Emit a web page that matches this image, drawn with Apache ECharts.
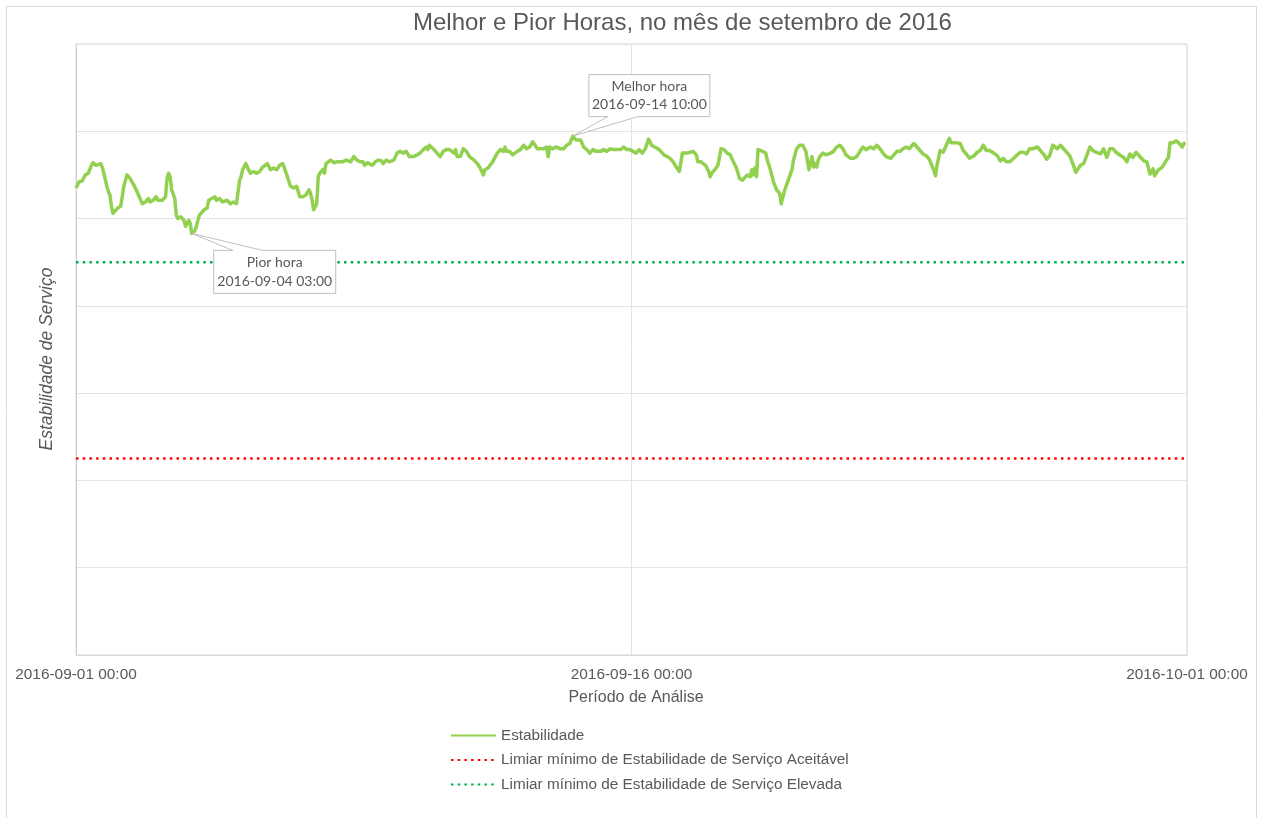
<!DOCTYPE html>
<html>
<head>
<meta charset="utf-8">
<title>Melhor e Pior Horas, no mês de setembro de 2016</title>
<script src="https://cdn.jsdelivr.net/npm/echarts@6/dist/echarts.min.js"></script>
<style>
  html, body { margin: 0; padding: 0; background: #ffffff; }
  #chart { width: 1261px; height: 818px; }
</style>
</head>
<body>
<div id="chart"></div>
<script>
// Hourly service stability, September 2016 (hour offset from 2016-09-01 00:00)
const hours = [
  0, 2, 4, 6, 8, 10, 11, 13, 16, 17, 18, 20, 21, 22, 23, 24, 25, 27, 29, 31,
  33, 35, 37, 39, 41, 43, 45, 47, 48, 50, 52, 53, 56, 57, 58, 59, 60, 61, 62, 64,
  65, 66, 67, 68, 70, 71, 72, 73, 74, 75, 76, 77, 78, 79, 80, 83, 85, 86, 88, 90,
  91, 93, 95, 98, 100, 102, 104, 105, 106, 107, 108, 110, 111, 113, 115, 117, 119, 121, 124, 126,
  128, 130, 132, 134, 135, 137, 139, 141, 143, 145, 147, 149, 151, 152, 153, 154, 155, 156, 157, 158,
  160, 161, 162, 165, 167, 169, 171, 173, 174, 175, 178, 180, 182, 184, 186, 187, 189, 192, 194, 196,
  198, 199, 201, 203, 206, 208, 210, 212, 214, 216, 219, 221, 223, 225, 227, 228, 229, 232, 234, 236,
  238, 240, 242, 245, 246, 247, 248, 249, 251, 253, 255, 258, 260, 262, 264, 265, 267, 268, 270, 273,
  275, 277, 278, 279, 281, 283, 286, 288, 290, 292, 294, 296, 299, 301, 303, 305, 306, 307, 309, 311,
  314, 316, 318, 320, 322, 324, 327, 329, 331, 333, 335, 337, 340, 342, 344, 346, 348, 350, 353, 355,
  357, 359, 361, 363, 365, 367, 369, 371, 372, 373, 375, 376, 378, 381, 383, 385, 387, 389, 391, 393,
  394, 396, 398, 400, 401, 402, 403, 405, 408, 410, 411, 412, 414, 415, 416, 418, 420, 422, 424, 426,
  428, 430, 432, 435, 436, 437, 438, 439, 440, 441, 442, 443, 445, 447, 448, 450, 452, 454, 456, 457,
  458, 459, 462, 464, 465, 467, 469, 471, 473, 475, 476, 477, 478, 479, 480, 481, 482, 484, 486, 489,
  491, 493, 495, 497, 499, 502, 504, 506, 508, 510, 512, 515, 517, 519, 521, 523, 525, 528, 530, 532,
  534, 536, 538, 540, 543, 545, 547, 549, 551, 553, 556, 557, 558, 560, 562, 564, 566, 567, 570, 573,
  575, 577, 579, 582, 584, 586, 588, 590, 592, 594, 597, 599, 601, 603, 605, 607, 610, 612, 614, 616,
  618, 620, 623, 625, 627, 629, 631, 633, 636, 638, 639, 640, 642, 644, 646, 648, 651, 653, 655, 657,
  659, 661, 664, 666, 668, 670, 672, 674, 677, 679, 681, 683, 685, 687, 690, 692, 694, 696, 698, 699,
  701, 704, 706, 708, 709, 711, 713, 715, 717, 718, 719
];
const stability = [
  83.5, 84.2, 84.3, 85.0, 85.2, 86.1, 86.4, 86.1, 86.3, 85.9, 85.2, 83.7, 83.1, 82.7, 81.4, 80.6, 80.5, 81.2, 81.4, 83.7,
  85.0, 84.6, 84.0, 83.3, 82.5, 81.7, 81.9, 82.3, 81.9, 82.1, 82.5, 82.1, 82.1, 82.3, 82.5, 84.6, 85.2, 84.8, 83.3, 82.3,
  80.4, 80.0, 79.8, 80.2, 79.8, 79.1, 79.5, 79.8, 79.5, 78.3, 78.5, 78.6, 79.1, 79.8, 80.4, 81.0, 81.2, 82.1, 82.3, 82.5,
  82.1, 82.3, 81.9, 82.1, 81.7, 81.9, 81.7, 81.7, 84.4, 84.8, 85.6, 86.3, 85.9, 85.2, 85.4, 85.2, 85.4, 85.9, 86.3, 85.6,
  85.8, 85.6, 86.1, 86.3, 85.8, 84.8, 83.7, 83.5, 83.7, 82.5, 82.5, 82.7, 83.3, 82.9, 82.1, 81.0, 80.8, 81.7, 84.8, 85.2,
  85.6, 85.2, 86.3, 86.7, 86.4, 86.5, 86.5, 86.5, 86.3, 86.7, 86.5, 87.1, 86.7, 86.5, 86.5, 86.1, 86.4, 86.1, 86.5, 86.7,
  86.6, 86.3, 86.7, 86.5, 86.7, 87.5, 87.7, 87.5, 87.7, 87.1, 87.1, 87.3, 87.5, 87.9, 88.2, 87.9, 88.4, 87.9, 87.5, 87.1,
  87.7, 87.9, 87.9, 87.5, 87.9, 87.1, 87.3, 87.1, 88.0, 87.7, 87.1, 86.7, 86.3, 85.8, 85.0, 85.6, 85.8, 85.6, 86.5, 87.5,
  87.9, 87.7, 88.2, 87.7, 87.7, 87.3, 87.7, 87.9, 88.4, 88.0, 88.2, 88.8, 88.0, 88.0, 88.0, 88.2, 87.1, 88.2, 88.0, 88.2,
  88.0, 88.0, 88.4, 88.6, 89.45, 89.0, 89.0, 88.2, 87.9, 87.5, 87.9, 87.7, 87.7, 87.9, 87.7, 88.0, 87.9, 87.9, 87.9, 88.2,
  87.9, 87.9, 87.7, 87.5, 87.9, 87.5, 88.0, 89.1, 88.8, 88.4, 88.2, 88.4, 87.9, 87.3, 87.1, 86.9, 86.5, 85.9, 85.4, 87.5,
  87.7, 87.5, 87.6, 87.7, 87.9, 87.3, 86.5, 86.5, 86.1, 85.4, 84.8, 85.2, 85.6, 85.4, 86.1, 88.0, 87.9, 87.5, 87.3, 86.5,
  85.8, 84.6, 84.4, 85.0, 85.2, 84.8, 85.6, 85.0, 85.8, 84.8, 87.9, 87.9, 87.7, 87.5, 86.7, 85.6, 84.2, 83.3, 82.9, 81.7,
  81.9, 83.1, 84.6, 85.6, 86.7, 88.0, 88.4, 88.4, 87.7, 85.6, 86.3, 87.1, 85.9, 86.3, 85.9, 86.7, 87.1, 87.5, 87.3, 87.5,
  87.7, 88.2, 88.4, 88.0, 87.3, 86.9, 86.9, 87.1, 87.7, 88.2, 87.9, 88.2, 88.0, 88.4, 88.0, 87.5, 87.1, 86.9, 87.3, 87.7,
  87.7, 88.0, 88.2, 88.0, 88.6, 88.2, 87.8, 87.4, 87.2, 86.8, 85.5, 84.9, 86.1, 87.8, 87.6, 88.4, 89.2, 88.7, 88.7, 88.6,
  87.8, 87.4, 86.9, 87.2, 87.6, 87.8, 88.4, 87.8, 87.8, 87.6, 87.2, 86.6, 86.9, 86.5, 86.5, 86.8, 87.3, 87.6, 87.6, 87.4,
  88.0, 88.0, 88.2, 87.8, 87.4, 86.8, 87.2, 88.4, 88.0, 88.4, 88.6, 88.0, 87.6, 87.2, 86.3, 85.3, 86.1, 86.3, 87.2, 88.2,
  87.8, 87.6, 87.4, 88.0, 87.0, 88.0, 88.0, 87.6, 87.2, 87.0, 86.5, 87.4, 87.0, 87.6, 87.0, 86.6, 86.5, 85.1, 85.7, 84.9,
  85.5, 85.9, 86.5, 87.0, 88.7, 88.7, 88.9, 88.6, 88.2, 88.6, 88.7
];

// Threshold levels
const acceptableThreshold = 52.5;   // Limiar mínimo de Estabilidade de Serviço Aceitável
const highThreshold = 75;           // Limiar mínimo de Estabilidade de Serviço Elevada

// Axis extents and tick labels
const periodStartUTC = Date.UTC(2016, 8, 1, 0, 0);
const periodHours = 720;
const xTickLabels = ['2016-09-01 00:00', '2016-09-16 00:00', '2016-10-01 00:00'];
const yMin = 30, yMax = 100, yStep = 10;

const seriesNames = [
  'Estabilidade',
  'Limiar mínimo de Estabilidade de Serviço Aceitável',
  'Limiar mínimo de Estabilidade de Serviço Elevada'
];
const calloutTitles = ['Melhor hora', 'Pior hora'];

// ---------------------------------------------------------------------------
const pad = n => String(n).padStart(2, '0');
function formatHour(h) {
  const d = new Date(periodStartUTC + h * 3600 * 1000);
  return d.getUTCFullYear() + '-' + pad(d.getUTCMonth() + 1) + '-' + pad(d.getUTCDate()) +
         ' ' + pad(d.getUTCHours()) + ':' + pad(d.getUTCMinutes());
}

const lineData = hours.map((h, i) => [h, stability[i]]);

// best and worst hours of the month
let iBest = 0, iWorst = 0;
stability.forEach((v, i) => {
  if (v > stability[iBest]) iBest = i;
  if (v < stability[iWorst]) iWorst = i;
});
const calloutData = [
  [hours[iBest], stability[iBest], 0],
  [hours[iWorst], stability[iWorst], 1]
];

// callout shapes, in pixels relative to the marked point
const calloutLayout = [
  { dx: 16, dy: -61.5, w: 121, h: 42, edge: 'bottom', a: 35, b: 65 },
  { dx: 22, dy: 17, w: 122, h: 43, edge: 'top', a: 41, b: 71 }
];

const textColor = '#595959';
const sansFont = '"Liberation Sans", Arial, sans-serif';

function renderCallout(params, api) {
  const p = api.coord([api.value(0), api.value(1)]);
  const k = api.value(2);
  const L = calloutLayout[k];
  const x0 = p[0] + L.dx, x1 = x0 + L.w;
  const y0 = p[1] + L.dy, y1 = y0 + L.h;
  let pts;
  if (L.edge === 'bottom') {
    pts = [[x0, y0], [x1, y0], [x1, y1], [p[0] + L.b, y1], [p[0], p[1]], [p[0] + L.a, y1], [x0, y1]];
  } else {
    pts = [[x0, y0], [p[0] + L.a, y0], [p[0], p[1]], [p[0] + L.b, y0], [x1, y0], [x1, y1], [x0, y1]];
  }
  return {
    type: 'group',
    children: [
      {
        type: 'polygon',
        shape: { points: pts },
        style: { fill: '#ffffff', stroke: '#BFBFBF', lineWidth: 1 }
      },
      {
        type: 'text',
        x: (x0 + x1) / 2,
        y: (y0 + y1) / 2,
        style: {
          text: calloutTitles[k] + '\n' + formatHour(api.value(0)),
          fill: textColor,
          font: '14px Lato, "Liberation Sans", sans-serif',
          lineHeight: 18.5,
          align: 'center',
          verticalAlign: 'middle'
        }
      }
    ]
  };
}

const chart = echarts.init(document.getElementById('chart'), null, { renderer: 'canvas' });

chart.setOption({
  animation: false,
  backgroundColor: '#ffffff',
  textStyle: { fontFamily: sansFont },
  title: {
    text: 'Melhor e Pior Horas, no mês de setembro de 2016',
    left: 413,
    top: 11,
    padding: 0,
    textStyle: { fontFamily: sansFont, fontSize: 24, fontWeight: 'normal', color: textColor }
  },
  grid: {
    left: 76, right: 74, top: 44, bottom: 163,
    show: true, borderColor: '#D9D9D9', borderWidth: 1
  },
  xAxis: {
    type: 'value',
    min: 0, max: periodHours, interval: periodHours / 2,
    name: 'Período de Análise',
    nameLocation: 'middle',
    nameGap: 35,
    nameTextStyle: { fontSize: 16, color: textColor, fontFamily: sansFont, padding: [0, 0, 0, 9] },
    axisLine: { show: true, lineStyle: { color: '#D9D9D9' } },
    axisTick: { show: false },
    splitLine: { show: true, lineStyle: { color: '#E3E3E3' } },
    axisLabel: {
      margin: 12,
      fontSize: 15.4,
      color: textColor,
      fontFamily: sansFont,
      formatter: v => xTickLabels[Math.round(v / (periodHours / 2))]
    }
  },
  yAxis: {
    type: 'value',
    min: yMin, max: yMax, interval: yStep,
    axisLine: { show: true, lineStyle: { color: '#D0D0D0' } },
    axisTick: { show: false },
    axisLabel: { show: false },
    splitLine: { show: true, lineStyle: { color: '#E3E3E3' } }
  },
  legend: {
    orient: 'vertical',
    left: 450,
    top: 728,
    padding: 0,
    itemWidth: 45,
    itemHeight: 15,
    itemGap: 9.5,
    data: seriesNames,
    textStyle: { fontSize: 15.3, color: textColor, fontFamily: sansFont }
  },
  graphic: [
    {
      type: 'rect',
      silent: true,
      shape: { x: 6.5, y: 6.5, width: 1250, height: 830 },
      style: { fill: null, stroke: '#D9D9D9', lineWidth: 1 }
    },
    {
      type: 'text',
      x: 47,
      y: 359,
      rotation: Math.PI / 2,
      style: {
        text: 'Estabilidade de Serviço',
        fill: textColor,
        font: 'italic 17.5px "Liberation Sans", Arial, sans-serif',
        align: 'center',
        verticalAlign: 'middle'
      }
    }
  ],
  series: [
    {
      name: seriesNames[1],
      type: 'line',
      data: [[0, acceptableThreshold], [periodHours, acceptableThreshold]],
      symbol: 'none',
      color: '#FF0000',
      itemStyle: { opacity: 0 },
      lineStyle: { color: '#FF0000', width: 2.5, type: [2.5, 4.2] },
      z: 2
    },
    {
      name: seriesNames[2],
      type: 'line',
      data: [[0, highThreshold], [periodHours, highThreshold]],
      symbol: 'none',
      color: '#00B050',
      itemStyle: { opacity: 0 },
      lineStyle: { color: '#00B050', width: 2.5, type: [2.5, 4.2] },
      z: 2
    },
    {
      name: seriesNames[0],
      type: 'line',
      data: lineData,
      symbol: 'none',
      color: '#92D050',
      itemStyle: { opacity: 0 },
      lineStyle: { color: '#92D050', width: 3.5, join: 'round' },
      z: 3
    },
    {
      type: 'custom',
      data: calloutData,
      encode: { x: 0, y: 1 },
      renderItem: renderCallout,
      clip: false,
      silent: true,
      z: 5
    }
  ]
});
</script>
</body>
</html>
